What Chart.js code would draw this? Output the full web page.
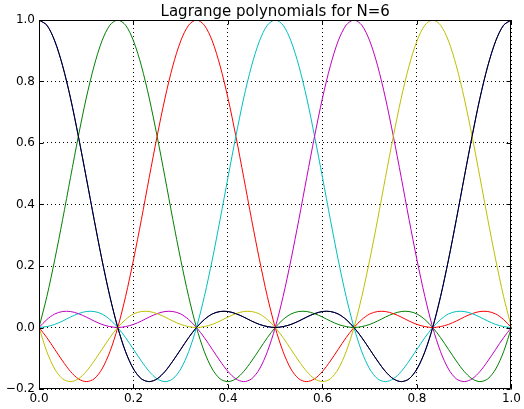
<!DOCTYPE html>
<html>
<head>
<meta charset="utf-8">
<script src="https://cdn.jsdelivr.net/npm/chart.js@4/dist/chart.umd.min.js"></script>
<style>
  html, body { margin: 0; padding: 0; background: #fff; }
  #wrap { width: 524px; height: 409px; }
</style>
</head>
<body>
<div id="wrap"><canvas id="c" width="524" height="409"></canvas></div>
<script>
// sample positions on [0, 1]
const xs = [0, .0167, .0333, .05, .0667, .0833, .1, .1167, .1333, .15,
  .1667, .1833, .2, .2167, .2333, .25, .2667, .2833, .3, .3167,
  .3333, .35, .3667, .3833, .4, .4167, .4333, .45, .4667, .4833,
  .5, .5167, .5333, .55, .5667, .5833, .6, .6167, .6333, .65,
  .6667, .6833, .7, .7167, .7333, .75, .7667, .7833, .8, .8167,
  .8333, .85, .8667, .8833, .9, .9167, .9333, .95, .9667, .9833, 1];

// cardinal functions, one per node x = j/6
const L0 = [1, 0.983, 0.932, 0.851, 0.746, 0.622, 0.488, 0.351, 0.220, 0.101,
  0, -0.079, -0.135, -0.167, -0.176, -0.167, -0.143, -0.109, -0.071, -0.033,
  0, 0.026, 0.044, 0.052, 0.052, 0.045, 0.034, 0.021, 0.010, 0.003,
  0, 0.003, 0.010, 0.021, 0.034, 0.045, 0.052, 0.052, 0.044, 0.026,
  0, -0.033, -0.071, -0.109, -0.143, -0.167, -0.176, -0.167, -0.135, -0.079,
  0, 0.101, 0.220, 0.351, 0.488, 0.622, 0.746, 0.851, 0.932, 0.983, 1];
const L1 = [0, 0.101, 0.220, 0.351, 0.488, 0.622, 0.746, 0.851, 0.932, 0.983,
  1, 0.983, 0.932, 0.851, 0.746, 0.622, 0.488, 0.351, 0.220, 0.101,
  0, -0.079, -0.135, -0.167, -0.176, -0.167, -0.143, -0.109, -0.071, -0.033,
  0, 0.026, 0.044, 0.052, 0.052, 0.045, 0.034, 0.021, 0.010, 0.003,
  0, 0.003, 0.010, 0.021, 0.034, 0.045, 0.052, 0.052, 0.044, 0.026,
  0, -0.033, -0.071, -0.109, -0.143, -0.167, -0.176, -0.167, -0.135, -0.079, 0];
const L2 = [0, -0.033, -0.071, -0.109, -0.143, -0.167, -0.176, -0.167, -0.135, -0.079,
  0, 0.101, 0.220, 0.351, 0.488, 0.622, 0.746, 0.851, 0.932, 0.983,
  1, 0.983, 0.932, 0.851, 0.746, 0.622, 0.488, 0.351, 0.220, 0.101,
  0, -0.079, -0.135, -0.167, -0.176, -0.167, -0.143, -0.109, -0.071, -0.033,
  0, 0.026, 0.044, 0.052, 0.052, 0.045, 0.034, 0.021, 0.010, 0.003,
  0, 0.003, 0.010, 0.021, 0.034, 0.045, 0.052, 0.052, 0.044, 0.026, 0];
const L3 = [0, 0.003, 0.010, 0.021, 0.034, 0.045, 0.052, 0.052, 0.044, 0.026,
  0, -0.033, -0.071, -0.109, -0.143, -0.167, -0.176, -0.167, -0.135, -0.079,
  0, 0.101, 0.220, 0.351, 0.488, 0.622, 0.746, 0.851, 0.932, 0.983,
  1, 0.983, 0.932, 0.851, 0.746, 0.622, 0.488, 0.351, 0.220, 0.101,
  0, -0.079, -0.135, -0.167, -0.176, -0.167, -0.143, -0.109, -0.071, -0.033,
  0, 0.026, 0.044, 0.052, 0.052, 0.045, 0.034, 0.021, 0.010, 0.003, 0];
const L4 = [0, 0.026, 0.044, 0.052, 0.052, 0.045, 0.034, 0.021, 0.010, 0.003,
  0, 0.003, 0.010, 0.021, 0.034, 0.045, 0.052, 0.052, 0.044, 0.026,
  0, -0.033, -0.071, -0.109, -0.143, -0.167, -0.176, -0.167, -0.135, -0.079,
  0, 0.101, 0.220, 0.351, 0.488, 0.622, 0.746, 0.851, 0.932, 0.983,
  1, 0.983, 0.932, 0.851, 0.746, 0.622, 0.488, 0.351, 0.220, 0.101,
  0, -0.079, -0.135, -0.167, -0.176, -0.167, -0.143, -0.109, -0.071, -0.033, 0];
const L5 = [0, -0.079, -0.135, -0.167, -0.176, -0.167, -0.143, -0.109, -0.071, -0.033,
  0, 0.026, 0.044, 0.052, 0.052, 0.045, 0.034, 0.021, 0.010, 0.003,
  0, 0.003, 0.010, 0.021, 0.034, 0.045, 0.052, 0.052, 0.044, 0.026,
  0, -0.033, -0.071, -0.109, -0.143, -0.167, -0.176, -0.167, -0.135, -0.079,
  0, 0.101, 0.220, 0.351, 0.488, 0.622, 0.746, 0.851, 0.932, 0.983,
  1, 0.983, 0.932, 0.851, 0.746, 0.622, 0.488, 0.351, 0.220, 0.101, 0];
// last node x = 1 coincides with x = 0 on the periodic grid
const L6 = L0.slice();

const seriesValues = [L0, L1, L2, L3, L4, L5, L6];
const seriesColors = ['#0000ff', '#008000', '#ff0000', '#00bfbf', '#bf00bf', '#bfbf00', '#000000'];
const xTicks = [0, 0.2, 0.4, 0.6, 0.8, 1.0];
const yTicks = [-0.2, 0, 0.2, 0.4, 0.6, 0.8, 1.0];
const titleText = 'Lagrange polynomials for N=6';

const datasets = seriesValues.map((vals, j) => ({
  data: vals.map((v, i) => ({ x: xs[i], y: v })),
  borderColor: seriesColors[j],
  borderWidth: 1,
  pointRadius: 0,
  tension: 0.3,
  fill: false,
  order: seriesValues.length - 1 - j
}));

// frame, inward tick marks and title
const framePlugin = {
  id: 'frame',
  afterDraw(chart) {
    const ctx = chart.ctx;
    const a = chart.chartArea;
    const xs_ = chart.scales.x, ys_ = chart.scales.y;
    const L = Math.round(a.left) + 0.5, R = Math.round(a.right) - 0.5;
    const T = Math.round(a.top) + 0.5, B = Math.round(a.bottom) - 0.5;
    ctx.save();
    ctx.strokeStyle = '#000';
    ctx.lineWidth = 1;
    ctx.beginPath();
    ctx.rect(L, T, R - L, B - T);
    ctx.stroke();
    const len = 4;
    ctx.beginPath();
    xTicks.forEach(v => {
      const px = Math.round(xs_.getPixelForValue(v)) + 0.5;
      ctx.moveTo(px, B); ctx.lineTo(px, B - len);
      ctx.moveTo(px, T); ctx.lineTo(px, T + len);
    });
    yTicks.forEach(v => {
      const py = Math.round(ys_.getPixelForValue(v)) + 0.5;
      ctx.moveTo(L, py); ctx.lineTo(L + len, py);
      ctx.moveTo(R, py); ctx.lineTo(R - len, py);
    });
    ctx.stroke();
    ctx.fillStyle = '#000';
    ctx.font = '15px "DejaVu Sans"';
    ctx.textAlign = 'center';
    ctx.textBaseline = 'alphabetic';
    ctx.fillText(titleText, (a.left + a.right) / 2, 16);
    ctx.restore();
  }
};

new Chart(document.getElementById('c'), {
  type: 'line',
  data: { datasets },
  options: {
    responsive: false,
    animation: false,
    devicePixelRatio: 1,
    layout: { padding: { top: 20, right: 9, left: 0, bottom: 0 } },
    plugins: { legend: { display: false }, tooltip: { enabled: false }, title: { display: false } },
    scales: {
      x: {
        type: 'linear', min: 0, max: 1,
        afterFit(s) { s.height = 20; },
        afterBuildTicks(s) { s.ticks = xTicks.map(v => ({ value: v })); },
        ticks: {
          color: '#000', padding: 3, maxRotation: 0,
          font: { family: 'DejaVu Sans', size: 12 },
          callback: v => v.toFixed(1).replace('-', '\u2212')
        },
        grid: { color: '#000', lineWidth: 1, drawTicks: false },
        border: { display: false, dash: [1, 3] }
      },
      y: {
        type: 'linear', min: -0.2, max: 1,
        afterFit(s) { s.width = 39; },
        afterBuildTicks(s) { s.ticks = yTicks.map(v => ({ value: v })); },
        ticks: {
          color: '#000', padding: 4,
          font: { family: 'DejaVu Sans', size: 12 },
          callback: v => v.toFixed(1).replace('-', '\u2212')
        },
        grid: { color: '#000', lineWidth: 1, drawTicks: false },
        border: { display: false, dash: [1, 3] }
      }
    }
  },
  plugins: [framePlugin]
});
</script>
</body>
</html>
